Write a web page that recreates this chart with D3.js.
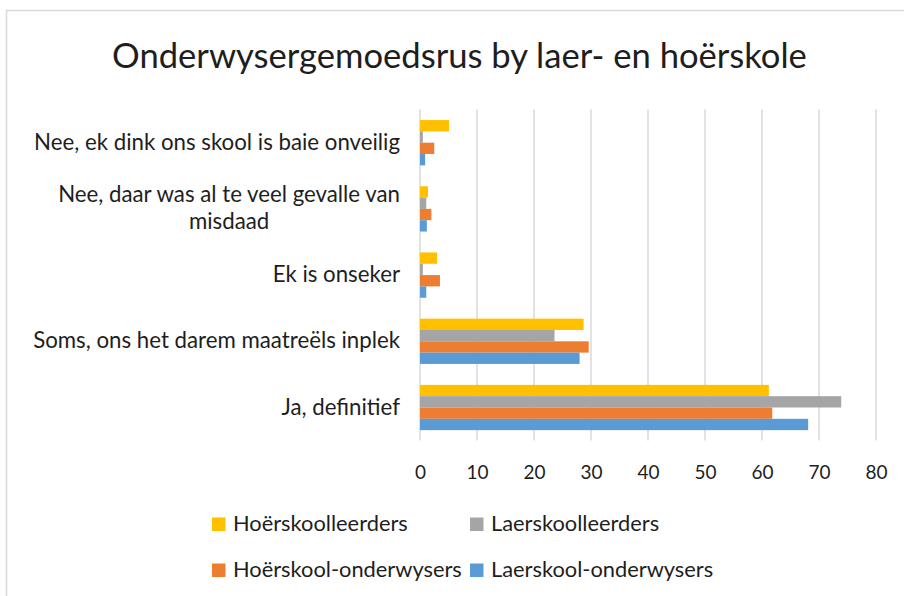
<!DOCTYPE html>
<html>
<head>
<meta charset="utf-8">
<script src="https://cdn.jsdelivr.net/npm/d3@7"></script>
<style>
  html, body { margin: 0; padding: 0; background: #fff; }
  svg { display: block; }
  text { font-family: Lato, "Open Sans", sans-serif; fill: #1e1e1e; }
</style>
</head>
<body>
<svg id="chart" width="904" height="596"></svg>
<script>
// ---- Data ----
const categories = [
  "Nee, ek dink ons skool is baie onveilig",
  "Nee, daar was al te veel gevalle van misdaad",
  "Ek is onseker",
  "Soms, ons het darem maatreëls inplek",
  "Ja, definitief"
];
const seriesNames = ["Hoërskoolleerders", "Laerskoolleerders", "Hoërskool-onderwysers", "Laerskool-onderwysers"];
const hoerskoolleerders     = [5.1, 1.4, 3.0, 28.7, 61.2];
const laerskoolleerders     = [0.5, 1.1, 0.5, 23.6, 73.9];
const hoerskoolOnderwysers  = [2.5, 2.0, 3.5, 29.6, 61.8];
const laerskoolOnderwysers  = [0.9, 1.2, 1.1, 28.0, 68.1];
const xTicks = [0, 10, 20, 30, 40, 50, 60, 70, 80];
const title = "Onderwysergemoedsrus by laer- en hoërskole";

const seriesValues = [hoerskoolleerders, laerskoolleerders, hoerskoolOnderwysers, laerskoolOnderwysers];
const colors = ["#FFC000", "#A5A5A5", "#ED7D31", "#5B9BD5"];

// ---- Layout ----
const svg = d3.select("#chart");
const plot = { left: 420, right: 876, top: 109.6, bottom: 440.6 };

// border
svg.append("rect").attr("x", 6.5).attr("y", 10.5).attr("width", 920).attr("height", 620)
  .attr("fill", "none").attr("stroke", "#D9D9D9").attr("stroke-width", 1.5);

// helper to fit font size to target width
function fitSize(str, target, base) {
  const t = svg.append("text").attr("font-size", base).text(str);
  const w = t.node().getComputedTextLength();
  t.remove();
  return base * target / w;
}

const x = d3.scaleLinear().domain([0, 80]).range([plot.left, plot.right]);
const y = d3.scaleBand().domain(categories).range([plot.top, plot.bottom]).padding(0);
const inner = d3.scaleBand().domain(seriesNames)
  .range([y.bandwidth() * 0.158, y.bandwidth() * 0.842]).padding(0);

// gridlines
svg.append("g").selectAll("line").data(xTicks).join("line")
  .attr("x1", d => x(d)).attr("x2", d => x(d))
  .attr("y1", plot.top).attr("y2", plot.bottom)
  .attr("stroke", "#D9D9D9").attr("stroke-width", 1.5);

// bars
const groups = svg.append("g").selectAll("g").data(categories).join("g")
  .attr("transform", d => `translate(0,${y(d)})`);
groups.selectAll("rect").data((c, ci) => seriesNames.map((s, si) => ({ s, si, v: seriesValues[si][ci] })))
  .join("rect")
  .attr("x", x(0))
  .attr("y", d => inner(d.s))
  .attr("width", d => x(d.v) - x(0))
  .attr("height", inner.bandwidth())
  .attr("fill", d => colors[d.si]);

// x axis tick labels
const tickSize = 19;
const xAxis = d3.axisBottom(x).tickValues(xTicks).tickSize(0).tickPadding(0).tickFormat(d3.format("d"));
const gx = svg.append("g").attr("transform", `translate(0,${plot.bottom})`).call(xAxis);
gx.select(".domain").remove();
gx.selectAll("text").attr("font-size", tickSize).attr("dy", 0).attr("y", 38.5)
  .attr("fill", "#1e1e1e").style("font-family", "Lato, 'Open Sans', sans-serif");

// category labels
const catSize = fitSize(categories[0], 366, 20);
const maxLabelW = 372;
function measure(str) {
  const t = svg.append("text").attr("font-size", catSize).text(str);
  const w = t.node().getComputedTextLength();
  t.remove();
  return w;
}
function wrap(str) {
  const words = str.split(" ");
  const lines = [];
  let cur = "";
  words.forEach(w => {
    const test = cur ? cur + " " + w : w;
    if (measure(test) > maxLabelW && cur) { lines.push(cur); cur = w; }
    else cur = test;
  });
  if (cur) lines.push(cur);
  return lines;
}
const lineH = 27;
categories.forEach(c => {
  const lines = wrap(c);
  const cy = y(c) + y.bandwidth() / 2;
  const widths = lines.map(measure);
  const maxW = d3.max(widths);
  const t = svg.append("text").attr("font-size", catSize);
  lines.forEach((ln, i) => {
    const off = (i - (lines.length - 1) / 2) * lineH;
    const single = lines.length === 1;
    t.append("tspan")
      .attr("x", single ? 400 : 400 - maxW / 2)
      .attr("text-anchor", single ? "end" : "middle")
      .attr("y", cy + off + 7)
      .text(ln);
  });
});

// title
const titleSize = fitSize(title, 695, 30);
svg.append("text").attr("x", 459.5).attr("y", 68).attr("text-anchor", "middle")
  .attr("font-size", titleSize).text(title);

// legend
const legSize = fitSize("Hoërskool-onderwysers", 229, 20);
const legPos = [
  { sx: 212, tx: 233, base: 531 },
  { sx: 470, tx: 491, base: 531 },
  { sx: 212, tx: 233, base: 577 },
  { sx: 470, tx: 491, base: 577 }
];
const leg = svg.append("g").selectAll("g").data(seriesNames).join("g");
leg.append("rect")
  .attr("x", (d, i) => legPos[i].sx)
  .attr("y", (d, i) => legPos[i].base - 13.5)
  .attr("width", 13.5).attr("height", 13.5)
  .attr("fill", (d, i) => colors[i]);
leg.append("text")
  .attr("x", (d, i) => legPos[i].tx)
  .attr("y", (d, i) => legPos[i].base)
  .attr("font-size", legSize)
  .text(d => d);
</script>
</body>
</html>
